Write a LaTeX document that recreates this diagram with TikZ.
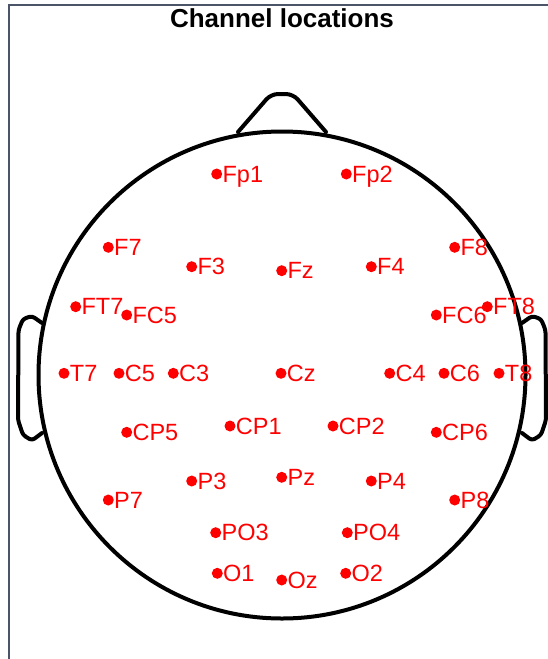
\documentclass[tikz,border=0pt]{standalone}
\usepackage{fontspec}
\setmainfont{Liberation Sans}
\definecolor{framegray}{RGB}{75,85,103}
\tikzset{
  head/.style={line width=4pt, line join=round, line cap=round},
  elec/.style={circle, fill=red, inner sep=0pt, minimum size=11pt},
  eleclabel/.style={text=red, font=\fontsize{23.5}{23.5}\selectfont, inner sep=0pt,
    text height=16pt, text depth=0pt, anchor=west}
}
\begin{document}
\begin{tikzpicture}[x=1pt, y=-1pt]
  \useasboundingbox (0,0) rectangle (548,659);
  \draw[framegray, line width=2pt] (9,659) -- (9,5) -- (548,5);
  \node[font=\bfseries\fontsize{26}{26}\selectfont, anchor=base] (title) at (282,27) {Channel locations};
  % head, nose and ears
  \draw[head] (282,375) circle [radius=243.5pt];
  \draw[head, rounded corners=7pt] (238,132) -- (271,94) -- (293,94) -- (326,132);
  \foreach \s in {-1,1}
    \draw[head, rounded corners=3pt] ({282+\s*240},323) -- ({282+\s*250},316) -- ({282+\s*259},319)
      -- ({282+\s*263.5},330) -- ({282+\s*264},420) -- ({282+\s*259},435)
      -- ({282+\s*250},440.5) -- ({282+\s*240},433);
  % electrodes
  \foreach \name/\px/\py in {Fp1/216.7/174, Fp2/346.3/174,
      F7/108.3/247.3, F3/191.7/266.7, Fz/281.7/270.7, F4/371.3/266.7, F8/454.7/247.3,
      FT7/75.7/306.7, FC5/126.7/315, FC6/436.3/315, FT8/487.3/306.7,
      T7/64/373.3, C5/119/373.3, C3/173.3/373.3, Cz/281/373.3, C4/389.7/373.3, C6/444/373.3, T8/499/373.3,
      CP5/126.7/432.3, CP1/230/426, CP2/333/426, CP6/436.3/432.3,
      P7/108.3/500, P3/191.7/481, Pz/281.7/477.3, P4/371.3/481, P8/454.7/500,
      PO3/215.7/532.7, PO4/347.3/532.7,
      O1/217.3/573.3, Oz/281.7/580, O2/345.7/573.3}
  {
    \node[elec] (\name) at (\px,\py) {};
    \node[eleclabel] (\name-lbl) at (\name.east) {\name};
  }
\end{tikzpicture}
\end{document}
